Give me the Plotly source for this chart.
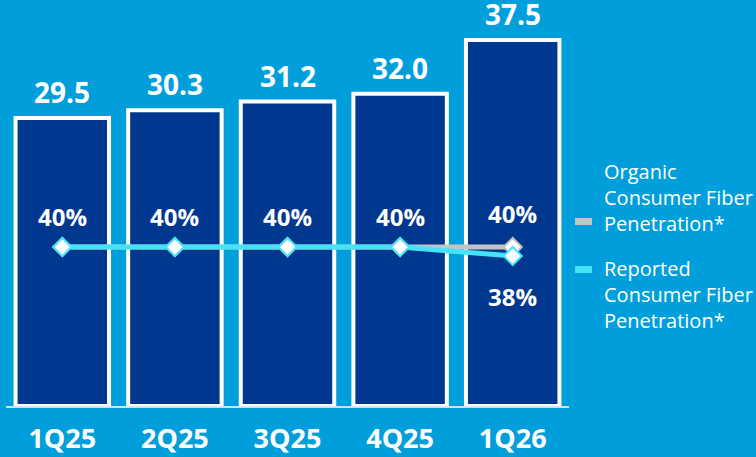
import plotly.graph_objects as go

quarters = ["1Q25", "2Q25", "3Q25", "4Q25", "1Q26"]
bar_values = [29.5, 30.3, 31.2, 32.0, 37.5]
organic_pen = [40, 40, 40, 40, 40]
reported_pen = [40, 40, 40, 40, 38]
bar_labels = ["29.5", "30.3", "31.2", "32.0", "37.5"]
pen_labels_top = ["40%", "40%", "40%", "40%", "40%"]
legend_organic = "Organic<br>Consumer Fiber<br>Penetration*"
legend_reported = "Reported<br>Consumer Fiber<br>Penetration*"

BG = "#009FDB"
BAR = "#00388F"
GRAY = "#C4C4C4"
CYAN = "#45E3F7"
FONT = "Open Sans"

fig = go.Figure()
fig.add_trace(go.Bar(
    x=quarters, y=bar_values,
    marker=dict(color=BAR, line=dict(color="white", width=4)),
    showlegend=False, hoverinfo="skip",
))
fig.add_trace(go.Scatter(
    x=quarters, y=organic_pen, yaxis="y2", mode="lines+markers",
    line=dict(color=GRAY, width=5),
    marker=dict(symbol="diamond", size=14, color="white", line=dict(color=GRAY, width=2)),
    showlegend=False, hoverinfo="skip",
))
fig.add_trace(go.Scatter(
    x=quarters, y=reported_pen, yaxis="y2", mode="lines+markers",
    line=dict(color=CYAN, width=5),
    marker=dict(symbol="diamond", size=14, color="white", line=dict(color=CYAN, width=2)),
    showlegend=False, hoverinfo="skip",
))

annotations = []
for q, v, lab in zip(quarters, bar_values, bar_labels):
    annotations.append(dict(x=q, y=v, xref="x", yref="y", text=f"<b>{lab}</b>",
                            showarrow=False, yanchor="bottom", yshift=5,
                            font=dict(family=FONT, size=28, color="white")))
for i, (q, v, lab) in enumerate(zip(quarters, organic_pen, pen_labels_top)):
    annotations.append(dict(x=q, y=v, xref="x", yref="y2", text=f"<b>{lab}</b>",
                            showarrow=False, yanchor="middle",
                            yshift=34 if i == len(quarters) - 1 else 31,
                            font=dict(family=FONT, size=24, color="white")))
annotations.append(dict(x=quarters[-1], y=reported_pen[-1], xref="x", yref="y2",
                        text=f"<b>{reported_pen[-1]}%</b>", showarrow=False,
                        yanchor="middle", yshift=-40,
                        font=dict(family=FONT, size=24, color="white")))
annotations.append(dict(x=602, y=457 - 197, xref="paper", yref="paper", text=legend_organic,
                        showarrow=False, xanchor="left", yanchor="middle", align="left",
                        font=dict(family=FONT, size=20, color="white")))
annotations.append(dict(x=602, y=457 - 294, xref="paper", yref="paper", text=legend_reported,
                        showarrow=False, xanchor="left", yanchor="middle", align="left",
                        font=dict(family=FONT, size=20, color="white")))

fig.update_layout(
    width=756, height=457,
    margin=dict(l=6, r=187, t=12, b=51, autoexpand=False),
    paper_bgcolor=BG, plot_bgcolor=BG,
    bargap=0.17,
    font=dict(family=FONT, color="white"),
    xaxis=dict(showgrid=False, showline=True, linecolor="#CFE3EE", linewidth=2,
               ticks="", tickfont=dict(family=FONT, size=27, color="white"),
               ticklabelstandoff=8, automargin=False,
               tickprefix="<b>", ticksuffix="</b>", fixedrange=True),
    yaxis=dict(range=[0, 40.37], visible=False, showgrid=False, fixedrange=True,
               automargin=False),
    yaxis2=dict(range=[4.67, 92.23], overlaying="y", visible=False, showgrid=False,
                automargin=False),
)
H = 457 - 12 - 51
fig.update_layout(annotations=[
    {**a, "x": (a["x"] - 6) / 563, "y": (a["y"] - 51) / H} if a.get("xref") == "paper" else a
    for a in annotations
])
fig.add_shape(type="rect", xref="paper", yref="paper",
              x0=(575 - 6) / 563, x1=(592 - 6) / 563,
              y0=(457 - 225 - 51) / H, y1=(457 - 218 - 51) / H,
              fillcolor=GRAY, line_width=0)
fig.add_shape(type="rect", xref="paper", yref="paper",
              x0=(575 - 6) / 563, x1=(592 - 6) / 563,
              y0=(457 - 273 - 51) / H, y1=(457 - 266 - 51) / H,
              fillcolor=CYAN, line_width=0)

fig.write_html("out.html")
